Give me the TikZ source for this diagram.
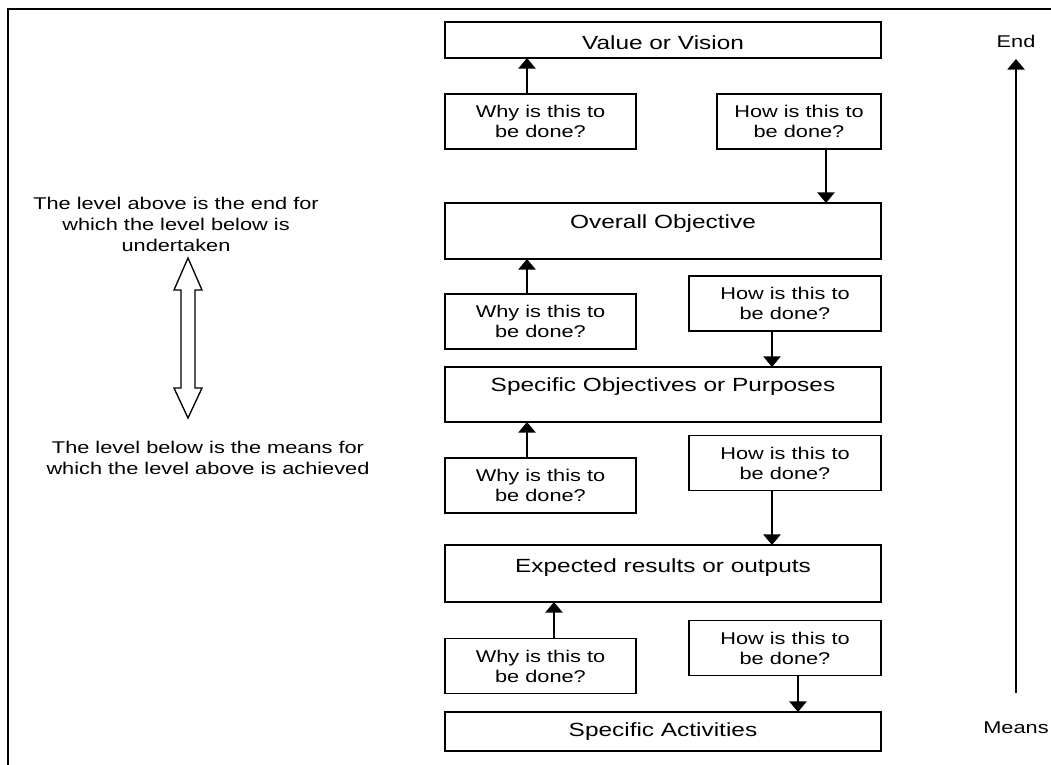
\documentclass[tikz,border=0pt]{standalone}
\usepackage{fontspec}
\setmainfont[FakeStretch=1.28]{Liberation Sans}
\usetikzlibrary{arrows.meta}
\begin{document}
\begin{tikzpicture}[x=0.75pt,y=-0.75pt,
  every node/.style={inner sep=0pt, outer sep=0pt},
  every label/.style={font=\fontsize{14.3}{17}\selectfont},
  level/.style={draw, line width=1pt, minimum width=327pt},
  ask/.style={draw, line width=1pt, minimum height=41.25pt, align=center,
    font=\fontsize{12.75}{15}\selectfont},
  up/.style={line width=1.3pt, -{Triangle[length=8pt,width=13pt]}},
  note/.style={align=center, font=\fontsize{12.75}{15.75}\selectfont}
]
\useasboundingbox (0,0) rectangle (1051,765);

% frame on the top and left sides
\draw[line width=2pt] (1051,9) -- (8,9) -- (8,765);

% hierarchy levels
\node[level, line width=1.5pt, minimum height=27pt,
  label={[yshift=-2.25pt]center:Value or Vision}] (vv) at (663,40) {};
\node[level, minimum height=42pt,
  label={[yshift=5.25pt]center:Overall Objective}] (ov) at (663,231) {};
\node[level, minimum height=41.25pt,
  label={[yshift=5.6pt]center:Specific Objectives or Purposes}] (so) at (663,394.5) {};
\node[level, minimum height=42.75pt,
  label={[yshift=4.1pt]center:Expected results or outputs}] (ex) at (663,573.5) {};
\node[level, minimum height=29.25pt,
  label={center:Specific Activities}] (sa) at (663,731.5) {};

% why / how questions
\node[ask, minimum width=143.25pt] (w1) at (540.5,121.5) {Why is this to\\be done?};
\node[ask, minimum width=143.25pt] (w2) at (540.5,321.5) {Why is this to\\be done?};
\node[ask, minimum width=143.25pt] (w3) at (540.5,485.5) {Why is this to\\be done?};
\node[ask, minimum width=143.25pt] (w4) at (540.5,666) {Why is this to\\be done?};
\node[ask, minimum width=123pt] (h1) at (799,121.5) {How is this to\\be done?};
\node[ask, minimum width=144pt] (h2) at (785,303.5) {How is this to\\be done?};
\node[ask, minimum width=144pt] (h3) at (785,463) {How is this to\\be done?};
\node[ask, minimum width=144pt] (h4) at (785,648) {How is this to\\be done?};

% connectors
\draw[up] ([shift={(-13.5,0)}]w1.north) coordinate (a1) -- (a1 |- vv.south);
\draw[up] ([shift={(27,0)}]h1.south) coordinate (b1) -- (b1 |- ov.north);
\draw[up] ([shift={(-13.5,0)}]w2.north) coordinate (a2) -- (a2 |- ov.south);
\draw[up] ([shift={(-13,0)}]h2.south) coordinate (b2) -- (b2 |- so.north);
\draw[up] ([shift={(-13.5,0)}]w3.north) coordinate (a3) -- (a3 |- so.south);
\draw[up] ([shift={(-13,0)}]h3.south) coordinate (b3) -- (b3 |- ex.north);
\draw[up] ([shift={(13.5,0)}]w4.north) coordinate (a4) -- (a4 |- ex.south);
\draw[up] ([shift={(13,0)}]h4.south) coordinate (b4) -- (b4 |- sa.north);

% end / means axis
\node[font=\fontsize{12.75}{15}\selectfont] (end) at (1016,41) {End};
\node[font=\fontsize{12.75}{15}\selectfont] (means) at (1016,728) {Means};
\coordinate (etip) at (1016,59);
\coordinate (mtop) at (1016,693);
\draw[up, line width=1.2pt] (mtop) -- (etip);

% left-hand explanation with hollow double arrow
\node[note] (above) at (176,224) {The level above is the end for\\which the level below is\\undertaken};
\node[note] (below) at (208,457.5) {The level below is the means for\\which the level above is achieved};
\draw[line width=1pt, line join=miter]
  (188,258) -- (202,290) -- (195,290) -- (195,388) -- (202,388) -- (188,418)
  -- (174,388) -- (181,388) -- (181,290) -- (174,290) -- cycle;
\end{tikzpicture}
\end{document}
